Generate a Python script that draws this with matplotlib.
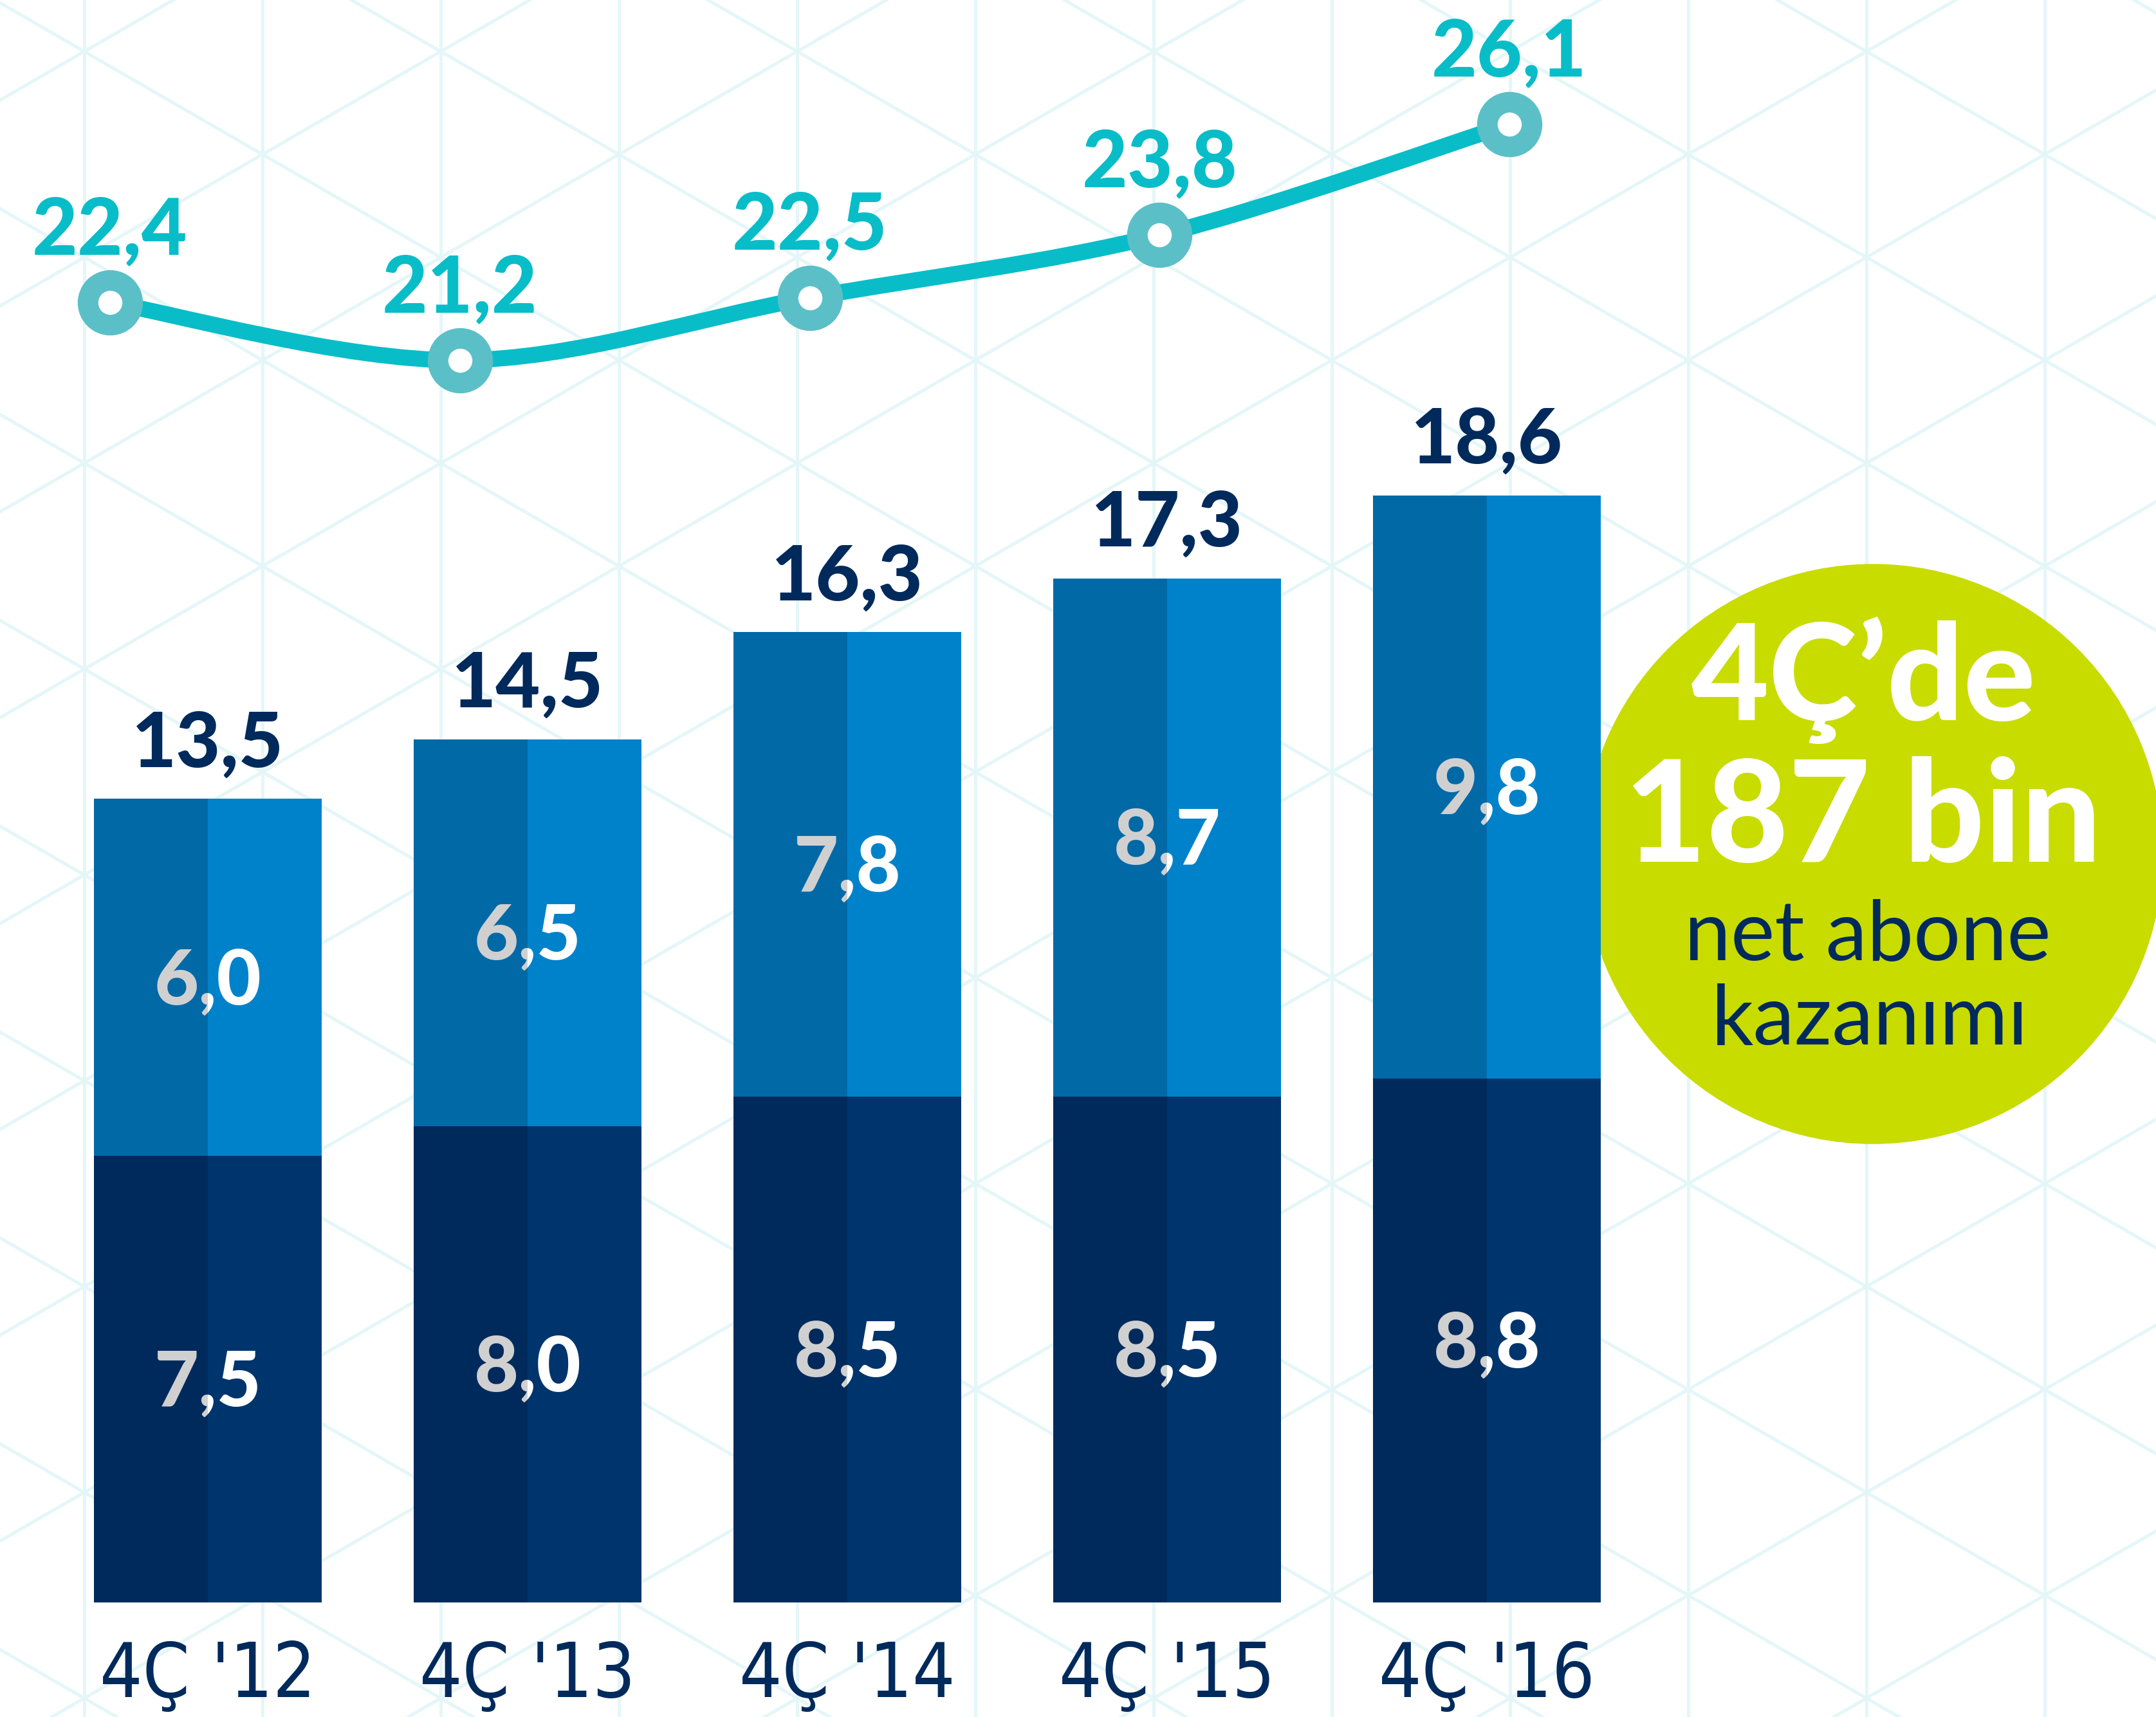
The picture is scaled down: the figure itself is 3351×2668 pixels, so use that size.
import numpy as np
import matplotlib
matplotlib.use("Agg")
import matplotlib.pyplot as plt
from matplotlib.patches import Circle, PathPatch
from matplotlib.path import Path
from matplotlib.transforms import ScaledTranslation

# Data
quarters = ["4Ç '12", "4Ç '13", "4Ç '14", "4Ç '15", "4Ç '16"]
lower = [7.5, 8.0, 8.5, 8.5, 8.8]
upper = [6.0, 6.5, 7.8, 8.7, 9.8]
totals = [13.5, 14.5, 16.3, 17.3, 18.6]
line_vals = [22.4, 21.2, 22.5, 23.8, 26.1]
badge_lines = ["4Ç’de", "187 bin", "net abone", "kazanımı"]

# Colours
navy = "#012a5c"
lower_l, lower_r = "#012a5c", "#00346c"
upper_l, upper_r = "#0269a7", "#0082ca"
teal = "#08bdc8"
ring = "#5bbfc8"
grid_c = "#e4f6f8"
lime = "#c8dc00"
W, H = 3351, 2668


def fmt(v):
    return f"{v:.1f}".replace(".", ",")


fig = plt.figure(figsize=(W / 100, H / 100), dpi=100)
fig.patch.set_facecolor("white")

# background: triangular grid + badge (pixel coordinates)
bg = fig.add_axes([0, 0, 1, 1])
bg.set_xlim(0, W)
bg.set_ylim(H, 0)
bg.axis("off")
step = 277
for gx in np.arange(131 - step, W + step, step):
    bg.axvline(gx, color=grid_c, lw=3.6, zorder=0)
t30 = np.tan(np.radians(30))
dy = step / np.cos(np.radians(30))
for k in range(-20, 20):
    y0 = 80 + k * dy
    bg.axline((131, y0), slope=t30, color=grid_c, lw=3.6, zorder=0)
    bg.axline((131, y0), slope=-t30, color=grid_c, lw=3.6, zorder=0)

bg.add_patch(Circle((2911, 1327), 450, color=lime, zorder=2))
bg.text(2897, 1119, badge_lines[0], ha="center", va="baseline", color="white",
        fontsize=150, family="Lato", weight="black", zorder=3)
bg.text(2895, 1339, badge_lines[1], ha="center", va="baseline", color="white",
        fontsize=158, family="Lato", weight="black", zorder=3)
bg.text(2903, 1492, badge_lines[2], ha="center", va="baseline", color=navy,
        fontsize=93, family="Lato", zorder=3)
bg.text(2906, 1623, badge_lines[3], ha="center", va="baseline", color=navy,
        fontsize=93, family="Lato", zorder=3)

# bars
ax = fig.add_axes([0, 178 / H, 2634 / W, 2490 / H])
ax.patch.set_alpha(0)
ax.set_xlim(-0.65, 4.65)
ax.set_ylim(0, 2490 / 92.5)
ax.axis("off")

x = np.arange(len(quarters))
w = 0.714
lo_l = ax.bar(x - w / 4, lower, width=w / 2, color=lower_l)
lo_r = ax.bar(x + w / 4, lower, width=w / 2, color=lower_r)
up_l = ax.bar(x - w / 4, upper, width=w / 2, bottom=lower, color=upper_l)
up_r = ax.bar(x + w / 4, upper, width=w / 2, bottom=lower, color=upper_r)

down = ax.transData + ScaledTranslation(0, -30 / 72, fig.dpi_scale_trans)
for i in range(len(x)):
    segs = [(lower[i] / 2, lower[i], lo_l[i], lo_r[i]),
            (lower[i] + upper[i] / 2, upper[i], up_l[i], up_r[i])]
    for yc, v, pl, pr in segs:
        # grey on the darker left half, white on the right half
        for col, clip in (("#d0d0d0", pl), ("white", pr)):
            t = ax.text(x[i], yc, fmt(v), ha="center", va="baseline", color=col,
                        fontsize=86, family="Lato", weight="black", transform=down,
                        clip_on=True)
            t.set_clip_path(clip)
    ax.text(x[i], lower[i] + upper[i], fmt(totals[i]), ha="center", va="baseline",
            color=navy, fontsize=86, family="Lato", weight="black",
            transform=ax.transData + ScaledTranslation(0, 36 / 72, fig.dpi_scale_trans))
    ax.text(x[i], 0, quarters[i], ha="center", va="baseline", color=navy,
            fontsize=84, family="DejaVu Sans", fontstretch="condensed",
            transform=ax.transData + ScaledTranslation(0, -106 / 72, fig.dpi_scale_trans))

# line
lax = fig.add_axes([0, 0, 1, 1])
lax.patch.set_alpha(0)
lax.axis("off")
px_x, px_y = 543.75, 74.8
x0_px, y0_px = 171, 470
lax.set_xlim(-x0_px / px_x, (W - x0_px) / px_x)
lax.set_ylim(line_vals[0] - (H - y0_px) / px_y, line_vals[0] + y0_px / px_y)

pts = np.column_stack([x, line_vals]).astype(float)
ext = np.vstack([pts[0], pts, pts[-1]])
verts = [pts[0]]
codes = [Path.MOVETO]
for i in range(len(pts) - 1):
    p0, p1, p2, p3 = ext[i], ext[i + 1], ext[i + 2], ext[i + 3]
    verts += [p1 + (p2 - p0) / 6, p2 - (p3 - p1) / 6, p2]
    codes += [Path.CURVE4] * 3
lax.add_patch(PathPatch(Path(verts, codes), fill=False, ec=teal, lw=18,
                        capstyle="round", zorder=2))
lax.plot(x, line_vals, "o", ms=50, mfc="white", mec=ring, mew=23, zorder=3)
up = lax.transData + ScaledTranslation(0, 54 / 72, fig.dpi_scale_trans)
for xi, v in zip(x, line_vals):
    lax.text(xi, v, fmt(v), ha="center", va="baseline", color=teal, fontsize=88,
             family="Lato", weight="black", transform=up, zorder=4)

fig.savefig("out.png", dpi=100)
